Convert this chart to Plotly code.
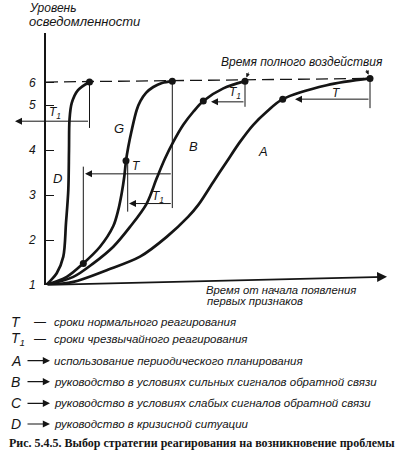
import plotly.graph_objects as go

# ---------------- data ----------------
# y axis: tick positions (drawing units) and their labels (level of awareness)
y_tick_vals = [1, 2, 3, 4, 5, 5.5]
y_tick_text = ["1", "2", "3", "4", "5", "6"]

# curves: time since first signs (arbitrary units) vs. level of awareness
curve_A_t = [0, 27.3, 60.7, 94, 120.7, 142.3, 152.3, 167.3, 180.7, 194, 207.3, 220.7, 236.7, 280.7, 324]
curve_A_y = [1, 1.07, 1.33, 1.63, 2.07, 2.52, 2.78, 3.29, 3.74, 4.18, 4.56, 4.85, 5.13, 5.44, 5.59]
curve_B_t = [0, 27.3, 47.3, 67.3, 84, 100.7, 110.7, 119, 127.3, 137.3, 147.3, 157.3, 177.3, 199]
curve_B_y = [1, 1.18, 1.48, 1.85, 2.29, 2.81, 3.37, 3.81, 4.18, 4.56, 4.85, 5.09, 5.37, 5.53]
curve_C_t = [0, 20.7, 37.3, 54, 67.3, 72.3, 75.7, 78.3, 80, 82.3, 85.7, 90.7, 94.5, 100, 107.3, 116, 126.3]
curve_C_y = [1, 1.18, 1.48, 1.85, 2.31, 2.67, 3.04, 3.41, 3.76, 4.07, 4.44, 4.89, 5.09, 5.27, 5.40, 5.49, 5.53]
curve_D_t = [0, 5, 10.7, 17.3, 20, 22.3, 23, 23.5, 25.7, 32, 43.5]
curve_D_y = [1, 1.11, 1.26, 1.63, 2.38, 3.11, 4.0, 4.67, 5.04, 5.33, 5.51]

# key points (dots)
dot_t = [43.5, 37.3, 80, 126.3, 157.3, 199, 236.7, 324]
dot_y = [5.51, 1.48, 3.76, 5.53, 5.09, 5.53, 5.13, 5.59]

# level of full impact (dashed line)
full_t = [0, 324]
full_y = [5.51, 5.59]

# drop lines from the dots: time, top level, bottom level
drop_t = [43.5, 37.3, 126.3, 81.7, 199, 324]
drop_top = [5.51, 3.63, 5.53, 3.76, 5.53, 5.59]
drop_bot = [4.49, 1.48, 2.71, 2.63, 4.96, 4.93]

# response intervals: from time, to time, level, label
int_from = [43.5, 126.3, 126.3, 199, 324]
int_to = [-31, 39, 83, 165, 249]
int_y = [4.64, 3.47, 2.81, 5.07, 5.13]
int_label = ["T<sub>1</sub>", "T", "T<sub>1</sub>", "T<sub>1</sub>", "T"]
int_label_t = [8.5, 90.7, 112.3, 189, 290.7]
int_label_y = [4.82, 3.64, 2.96, 5.27, 5.27]

# curve labels
curve_names = ["A", "B", "G", "D"]
curve_label_t = [217.3, 147.3, 73, 11.3]
curve_label_y = [3.96, 4.07, 4.48, 3.36]

legend_keys = ["T", "T<sub>1</sub>", "A", "B", "C", "D"]
legend_texts = [
    "сроки нормального реагирования",
    "сроки чрезвычайного реагирования",
    "использование периодического планирования",
    "руководство в условиях сильных сигналов обратной связи",
    "руководство в условиях слабых сигналов обратной связи",
    "руководство в кризисной ситуации",
]

# ---------------- layout helpers ----------------
W, H = 397, 459
ML, MR, MT, MB = 46, 10, 33, 174
PW, PH = W - ML - MR, H - MT - MB
Y_PER_UNIT = 45.0
Y0 = 1.0
YMAX = Y0 + PH / Y_PER_UNIT


def P(px, py):
    return (px - ML) / PW, (H - MB - py) / PH


INK = "#151515"
FONT = "Liberation Sans"

fig = go.Figure()

for t, y in [(curve_A_t, curve_A_y), (curve_B_t, curve_B_y),
             (curve_C_t, curve_C_y), (curve_D_t, curve_D_y)]:
    fig.add_trace(go.Scatter(x=t, y=y, mode="lines",
                             line=dict(color=INK, width=2.7, shape="spline", smoothing=0.9),
                             hoverinfo="skip", showlegend=False))

fig.add_trace(go.Scatter(x=full_t, y=full_y, mode="lines",
                         line=dict(color=INK, width=1.3, dash="12px,6px"),
                         hoverinfo="skip", showlegend=False))

dx, dy = [], []
for t, a, b in zip(drop_t, drop_top, drop_bot):
    dx += [t, t, None]
    dy += [a, b, None]
fig.add_trace(go.Scatter(x=dx, y=dy, mode="lines", line=dict(color=INK, width=1),
                         hoverinfo="skip", showlegend=False))

fig.add_trace(go.Scatter(x=dot_t, y=dot_y, mode="markers",
                         marker=dict(color=INK, size=7),
                         hoverinfo="skip", showlegend=False))

ann = []
# interval arrows
for f, to, y in zip(int_from, int_to, int_y):
    ann.append(dict(x=to, y=y, xref="x", yref="y", ax=f, ay=y, axref="x", ayref="y",
                    text="", showarrow=True, arrowhead=2, arrowsize=1.4, arrowwidth=1,
                    arrowcolor=INK, standoff=0, startstandoff=0))
for lab, t, y in zip(int_label, int_label_t, int_label_y):
    ann.append(dict(x=t, y=y, xref="x", yref="y", text=lab, showarrow=False,
                    font=dict(family=FONT, size=12, color=INK, style="italic")))
for lab, t, y in zip(curve_names, curve_label_t, curve_label_y):
    ann.append(dict(x=t, y=y, xref="x", yref="y", text=lab, showarrow=False,
                    font=dict(family=FONT, size=13, color=INK, style="italic")))

# x axis (time) arrow
ann.append(dict(x=341, y=1.184, xref="x", yref="y", ax=0, ay=1, axref="x", ayref="y",
                text="", showarrow=True, arrowhead=2, arrowsize=1.1, arrowwidth=1.8,
                arrowcolor=INK, standoff=0))

# small pointers to full impact dots
for t, y, axp, ayp in [(199, 5.53, 4, -10), (324, 5.59, -4, -10)]:
    ann.append(dict(x=t, y=y, xref="x", yref="y", ax=axp, ay=ayp, text="",
                    showarrow=True, arrowhead=2, arrowsize=0.8, arrowwidth=1,
                    arrowcolor=INK, standoff=4))


def text_at(px, py, s, size=12, anchor="left", family=FONT, style="italic", weight="normal"):
    x, y = P(px, py)
    ann.append(dict(x=x, y=y, xref="paper", yref="paper", text=s, showarrow=False,
                    xanchor=anchor, yanchor="middle",
                    font=dict(family=family, size=size, color=INK, style=style, weight=weight)))


text_at(27, 8, "Уровень", 12)
text_at(27, 21.5, "осведомленности", 13)
text_at(302, 62, "Время полного воздействия", 12, anchor="center")
text_at(204, 289.5, "Время от начала появления", 11.3)
text_at(205, 301, "первых признаков", 11.3)

rows_y = [321.7, 339.3, 360.7, 381.7, 403.3, 424]
for i, (k, s, y) in enumerate(zip(legend_keys, legend_texts, rows_y)):
    text_at(9, y, k, 14)
    if i < 2:
        text_at(40, y, "—", 12, anchor="center", style="normal")
    else:
        hx, hy = P(50, y)
        ann.append(dict(x=hx, y=hy, xref="paper", yref="paper", ax=-24, ay=0,
                        text="", showarrow=True, arrowhead=2, arrowsize=1.2,
                        arrowwidth=1.2, arrowcolor=INK, standoff=0))
    text_at(52, y, s, 11.5)

text_at(7, 443.3, "Рис. 5.4.5. Выбор стратегии реагирования на возникновение проблемы",
        12, family="Liberation Serif", style="normal", weight="bold")

fig.update_layout(
    width=W, height=H,
    margin=dict(l=ML, r=MR, t=MT, b=MB, pad=0),
    paper_bgcolor="white", plot_bgcolor="white",
    showlegend=False,
    annotations=ann,
    xaxis=dict(range=[0, PW], visible=False, fixedrange=True),
    yaxis=dict(range=[Y0, YMAX], showgrid=False, zeroline=False,
               showline=True, linecolor=INK, linewidth=1.8,
               tickmode="array", tickvals=y_tick_vals, ticktext=y_tick_text,
               ticks="inside", ticklen=8, tickwidth=1.2, tickcolor=INK,
               ticklabelstandoff=6,
               tickfont=dict(family=FONT, size=12, color=INK, style="italic"),
               fixedrange=True),
)

fig.write_html("out.html", config={"displayModeBar": False},
               post_script="document.body.style.margin='0';")
